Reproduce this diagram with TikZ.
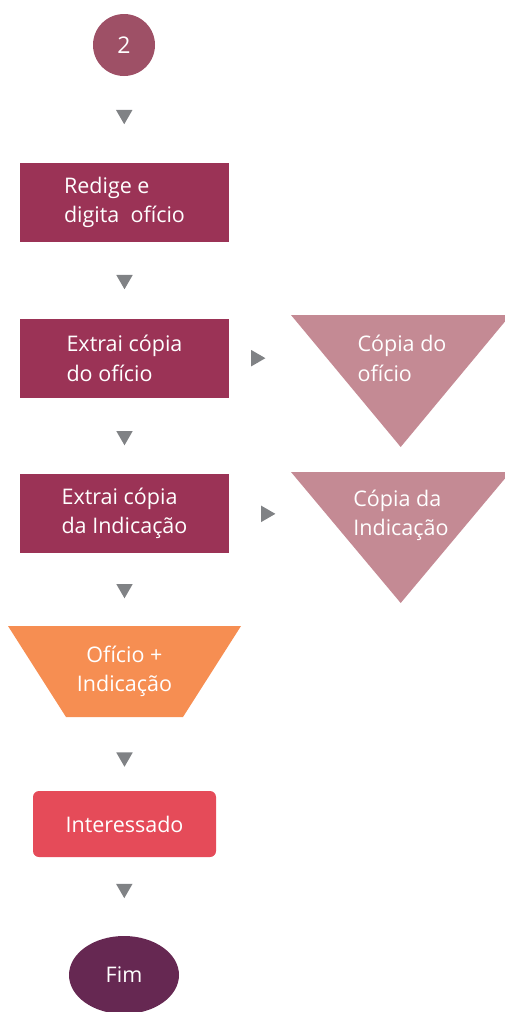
\documentclass[tikz,border=0pt]{standalone}
\usepackage{fontspec}
\setmainfont{Open Sans}
\usetikzlibrary{shapes.geometric}

\definecolor{startrose}{RGB}{158,80,102}
\definecolor{wine}{RGB}{155,51,86}
\definecolor{copypink}{RGB}{196,138,148}
\definecolor{mixorange}{RGB}{246,142,82}
\definecolor{personred}{RGB}{229,75,89}
\definecolor{endplum}{RGB}{102,40,82}
\definecolor{tipgray}{RGB}{128,130,133}

\tikzset{
  label text/.style={text=white, font=\fontsize{21.5}{29.5}\selectfont, inner sep=0pt},
  startcircle/.style={circle, fill=startrose, minimum size=62, label text},
  procbox/.style={rectangle, fill=wine, minimum width=209, minimum height=79, align=left, label text},
  personbox/.style={rectangle, rounded corners=6, fill=personred, minimum width=183, minimum height=66, label text},
  endellipse/.style={ellipse, fill=endplum, minimum width=110, minimum height=78, label text},
  tipdown/.style={regular polygon, regular polygon sides=3, shape border rotate=180, fill=tipgray, minimum size=19, inner sep=0pt},
  tipright/.style={regular polygon, regular polygon sides=3, shape border rotate=-90, fill=tipgray, minimum size=19, inner sep=0pt}
}

\begin{document}
\begin{tikzpicture}[x=1pt,y=-1pt]
\useasboundingbox (0,0) rectangle (505,1012);

% document shapes
\fill[copypink] (291,315) -- (510.4,315) -- (400.7,447) -- cycle;
\fill[copypink] (291,472) -- (510.4,472) -- (400.7,603) -- cycle;
\fill[mixorange] (8,626) -- (241,626) -- (183,717) -- (66,717) -- cycle;
\coordinate (oficioedge) at (326.7,358);
\coordinate (indicedge) at (326.2,514);

% nodes
\node[startcircle] (start) at (124,45) {\fontsize{23}{29.5}\selectfont 2};
\node[procbox] (redige) at (124.5,202.5) {Redige e\\digita\ \ ofício};
\node[procbox] (copiaoficio) at (124.5,358.5) {Extrai cópia\\do ofício};
\node[procbox] (copiaindic) at (124.5,513.5) {Extrai cópia\\da Indicação};
\node[label text, align=left] (docoficio) at (402,358.5) {Cópia do\\ofício};
\node[label text, align=left] (docindic) at (401,515.5) {Cópia da\\Indicação};
\node[label text, align=center, minimum height=91] (juntos) at (124.5,671.5) {Ofício +\\Indicação};
\node[personbox] (interessado) at (124.5,824) {Interessado};
\node[endellipse] (fim) at (124,975) {Fim};

% arrow tips
\path (start) -- node[tipdown, pos=0.445] {} (redige);
\path (redige) -- node[tipdown, pos=0.49] {} (copiaoficio);
\path (copiaoficio) -- node[tipdown, pos=0.497] {} (copiaindic);
\path (copiaindic) -- node[tipdown, pos=0.49] {} (juntos);
\path (juntos) -- node[tipdown, pos=0.544] {} (interessado);
\path (interessado) -- node[tipdown, pos=0.40] {} (fim);
\path (copiaoficio) -- node[tipright, pos=0.274] {} (oficioedge);
\path (copiaindic) -- node[tipright, pos=0.378] {} (indicedge);

\end{tikzpicture}
\end{document}
